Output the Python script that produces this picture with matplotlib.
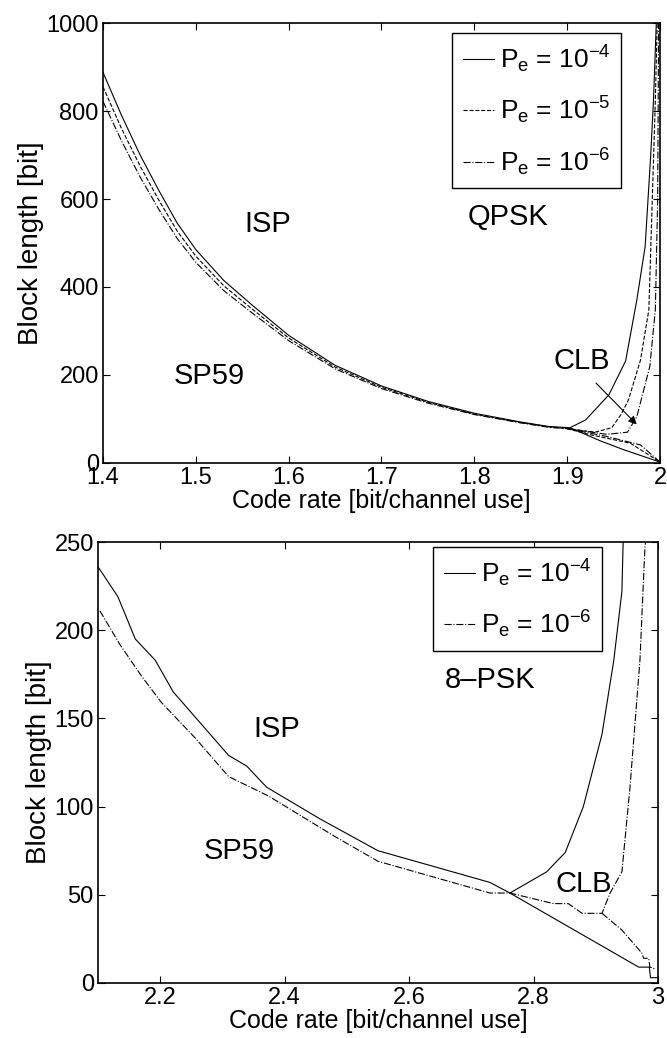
import numpy as np
import matplotlib
matplotlib.use('Agg')
import matplotlib.pyplot as plt

plt.rcParams['font.family'] = ['Liberation Sans', 'DejaVu Sans']
plt.rcParams['mathtext.fontset'] = 'custom'
plt.rcParams['mathtext.rm'] = 'Liberation Sans'
plt.rcParams['mathtext.it'] = 'Liberation Sans'

# ---- QPSK panel, rate 1.4 .. 2 ----
q_left_x = [1.40, 1.42, 1.44, 1.46, 1.48, 1.50, 1.53, 1.56, 1.60, 1.65, 1.70, 1.75, 1.80, 1.85, 1.88]
q4_left_y = [888, 790, 700, 620, 545, 485, 415, 360, 290, 222, 175, 140, 113, 93, 83]
q5_left_y = [855, 760, 675, 598, 527, 470, 403, 351, 284, 218, 172, 138, 111, 92, 82]
q6_left_y = [822, 732, 650, 577, 510, 456, 392, 342, 278, 214, 169, 136, 110, 91, 81]

# ISP branch past the knee
q4_isp_x = [1.903, 1.92, 1.945, 1.963, 1.975, 1.984, 1.990, 1.993, 1.996]
q4_isp_y = [80, 98, 155, 232, 370, 492, 700, 825, 1000]
q5_isp_x = [1.90, 1.93, 1.948, 1.958, 1.966, 1.979, 1.988, 1.995, 1.997]
q5_isp_y = [78, 70, 80, 110, 143, 234, 348, 825, 1000]
q6_isp_x = [1.90, 1.943, 1.965, 1.975, 1.989, 1.995, 1.9975, 1.9985]
q6_isp_y = [78, 65, 70, 105, 219, 348, 600, 1000]

# SP59 branch past the knee
q4_sp_x = [1.903, 1.936, 1.961, 2.0]
q4_sp_y = [80, 50, 30, 2]
q5_sp_x = [1.90, 1.925, 1.968, 2.0]
q5_sp_y = [78, 64, 45, 2]
q6_sp_x = [1.90, 1.943, 1.979, 2.0]
q6_sp_y = [78, 60, 41, 2]

# ---- 8-PSK panel, rate 2.1 .. 3 ----
p4_isp_x = [2.10, 2.132, 2.160, 2.192, 2.221, 2.310, 2.339, 2.371, 2.457,
            2.55, 2.730, 2.762, 2.821, 2.851, 2.880, 2.910, 2.929, 2.942, 2.944]
p4_isp_y = [236, 219, 195, 183, 165, 129, 123, 111, 93,
            75, 57, 51, 63, 74, 100, 141, 183, 222, 250]
p4_sp_x = [2.762, 2.969, 2.986, 2.988, 2.998]
p4_sp_y = [51, 9, 9, 3, 3]

p6_isp_x = [2.103, 2.135, 2.170, 2.202, 2.256, 2.310, 2.374, 2.481, 2.55, 2.730, 2.762,
            2.832, 2.856, 2.878, 2.910, 2.923, 2.942, 2.955, 2.971, 2.979, 2.980]
p6_isp_y = [211, 192, 174, 159, 139, 117, 106, 83, 69, 51, 51,
            45, 45, 39.5, 39.5, 51, 63, 111, 183, 247, 250]
p6_sp_x = [2.910, 2.942, 2.974, 2.977, 2.985, 2.987, 2.995]
p6_sp_y = [39.5, 30, 17, 14, 14, 9, 8]

lw = 0.8
fs_tick = 17
fs_xlab = 18
fs_ylab = 20
fs_txt = 21
fs_leg = 19

fig = plt.figure(figsize=(6.67, 10.38), dpi=100)
ax1 = fig.add_axes([0.1544, 0.5540, 0.8351, 0.4238])
ax2 = fig.add_axes([0.1469, 0.0530, 0.8396, 0.4248])

def style(ax):
    ax.tick_params(direction='in', top=True, right=True, length=5,
                   labelsize=fs_tick, pad=3)
    for s in ax.spines.values():
        s.set_linewidth(1.2)
    ax.set_xlabel('Code rate [bit/channel use]', fontsize=fs_xlab, labelpad=0)
    ax.set_ylabel('Block length [bit]', fontsize=fs_ylab, labelpad=2)

def legend(ax, anchor):
    leg = ax.legend(loc='upper right', bbox_to_anchor=anchor, borderaxespad=0,
                    fontsize=fs_leg, handlelength=1.2, handletextpad=0.2,
                    labelspacing=0.75, borderpad=0.4, fancybox=False,
                    edgecolor='k', framealpha=1)
    leg.get_frame().set_linewidth(1.0)
    return leg

# top: QPSK
ax1.plot(q_left_x + q4_isp_x, q4_left_y + q4_isp_y, 'k-', lw=lw, label='$P_e$ = $10^{-4}$')
ax1.plot(q_left_x + q5_isp_x, q5_left_y + q5_isp_y, 'k--', lw=lw, label='$P_e$ = $10^{-5}$')
ax1.plot(q_left_x + q6_isp_x, q6_left_y + q6_isp_y, 'k-.', lw=lw, label='$P_e$ = $10^{-6}$')
ax1.plot(q4_sp_x, q4_sp_y, 'k-', lw=lw)
ax1.plot(q5_sp_x, q5_sp_y, 'k--', lw=lw)
ax1.plot(q6_sp_x, q6_sp_y, 'k-.', lw=lw)
ax1.set_xlim(1.4, 2)
ax1.set_ylim(0, 1000)
ax1.set_xticks([1.4, 1.5, 1.6, 1.7, 1.8, 1.9, 2])
ax1.set_xticklabels(['1.4', '1.5', '1.6', '1.7', '1.8', '1.9', '2'])
ax1.set_yticks([0, 200, 400, 600, 800, 1000])
style(ax1)
ax1.text(1.577, 543, 'ISP', fontsize=fs_txt, ha='center', va='center')
ax1.text(1.836, 558, 'QPSK', fontsize=fs_txt, ha='center', va='center')
ax1.text(1.514, 198, 'SP59', fontsize=fs_txt, ha='center', va='center')
ax1.annotate('', xy=(1.977, 83), xytext=(1.929, 186),
             arrowprops=dict(arrowstyle='-|>', color='k', lw=0.8, mutation_scale=12))
ax1.text(1.916, 232, 'CLB', fontsize=fs_txt, ha='center', va='center')
legend(ax1, (0.93, 0.977))

# bottom: 8-PSK
ax2.plot(p4_isp_x, p4_isp_y, 'k-', lw=lw, label='$P_e$ = $10^{-4}$')
ax2.plot(p6_isp_x, p6_isp_y, 'k-.', lw=lw, label='$P_e$ = $10^{-6}$')
ax2.plot(p4_sp_x, p4_sp_y, 'k-', lw=lw)
ax2.plot(p6_sp_x, p6_sp_y, 'k-.', lw=lw)
ax2.set_xlim(2.1, 3)
ax2.set_ylim(0, 250)
ax2.set_xticks([2.2, 2.4, 2.6, 2.8, 3])
ax2.set_xticklabels(['2.2', '2.4', '2.6', '2.8', '3'])
ax2.set_yticks([0, 50, 100, 150, 200, 250])
style(ax2)
ax2.text(2.387, 144, 'ISP', fontsize=fs_txt, ha='center', va='center')
ax2.text(2.730, 172, '8\u2013PSK', fontsize=fs_txt, ha='center', va='center')
ax2.text(2.327, 75, 'SP59', fontsize=fs_txt, ha='center', va='center')
ax2.text(2.880, 56, 'CLB', fontsize=fs_txt, ha='center', va='center')
legend(ax2, (0.9, 0.989))

fig.savefig('out.png', dpi=100)
